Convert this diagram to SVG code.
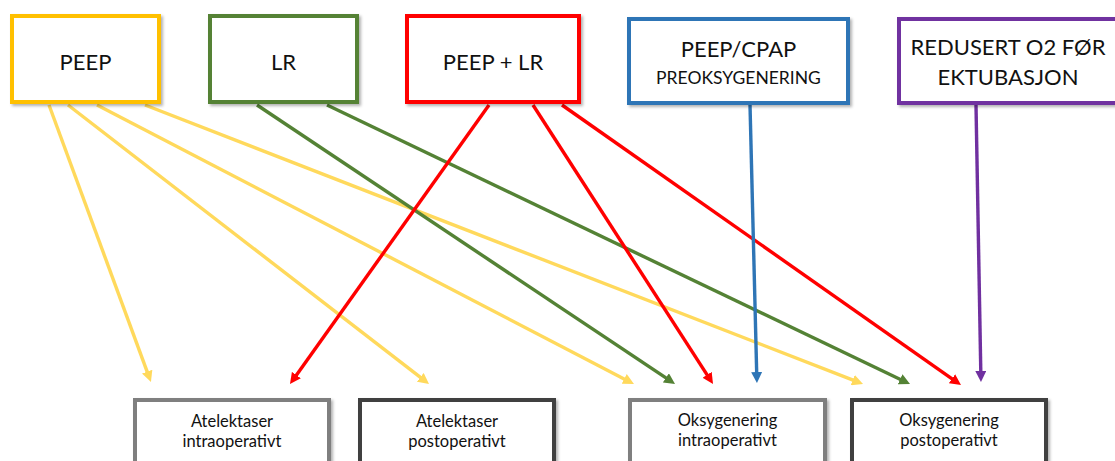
<svg xmlns="http://www.w3.org/2000/svg" width="1115" height="461" viewBox="0 0 1115 461">
<style>
.box{fill:#fff;stroke-width:4;filter:url(#sh)}
.bb{fill:#fff;stroke-width:4;filter:url(#sh)}
.t{font-family:Lato,"Liberation Sans",sans-serif;fill:#111;text-anchor:middle}
.big{font-size:22px}
.mid{font-size:17.5px}
.sm{font-size:16.5px}
.c{fill:none;stroke-width:3.4}
</style>
<defs>
<filter id="sh" x="-10%" y="-10%" width="125%" height="130%">
<feDropShadow dx="2" dy="2" stdDeviation="1.5" flood-color="#000" flood-opacity="0.3"/>
</filter>
<marker id="ay" markerUnits="userSpaceOnUse" markerWidth="12" markerHeight="11" refX="1" refY="5.5" orient="auto"><path d="M0,0 L11,5.5 L0,11 z" fill="#FFD95C"/></marker>
<marker id="ag" markerUnits="userSpaceOnUse" markerWidth="12" markerHeight="11" refX="1" refY="5.5" orient="auto"><path d="M0,0 L11,5.5 L0,11 z" fill="#548235"/></marker>
<marker id="ar" markerUnits="userSpaceOnUse" markerWidth="12" markerHeight="11" refX="1" refY="5.5" orient="auto"><path d="M0,0 L11,5.5 L0,11 z" fill="#FF0000"/></marker>
<marker id="ab" markerUnits="userSpaceOnUse" markerWidth="12" markerHeight="11" refX="1" refY="5.5" orient="auto"><path d="M0,0 L11,5.5 L0,11 z" fill="#2E75B6"/></marker>
<marker id="ap" markerUnits="userSpaceOnUse" markerWidth="12" markerHeight="11" refX="1" refY="5.5" orient="auto"><path d="M0,0 L11,5.5 L0,11 z" fill="#7030A0"/></marker>
</defs>
<rect width="1115" height="461" fill="#fff"/>
<g id="connectors">
<line class="c" stroke="#FFD95C" marker-end="url(#ay)" x1="49" y1="105" x2="147.5" y2="372.6"/>
<line class="c" stroke="#FFD95C" marker-end="url(#ay)" x1="68" y1="105" x2="421.1" y2="377.9"/>
<line class="c" stroke="#FFD95C" marker-end="url(#ay)" x1="97" y1="105" x2="625.1" y2="379.4"/>
<line class="c" stroke="#FFD95C" marker-end="url(#ay)" x1="145" y1="105" x2="853.7" y2="380.4"/>
<line class="c" stroke="#548235" marker-end="url(#ag)" x1="257" y1="105" x2="666.7" y2="378.4"/>
<line class="c" stroke="#548235" marker-end="url(#ag)" x1="327" y1="105" x2="901" y2="379.7"/>
<line class="c" stroke="#FF0000" marker-end="url(#ar)" x1="489" y1="105" x2="295.8" y2="375.9"/>
<line class="c" stroke="#FF0000" marker-end="url(#ar)" x1="533" y1="105" x2="707.6" y2="375.6"/>
<line class="c" stroke="#FF0000" marker-end="url(#ar)" x1="562" y1="105" x2="952.8" y2="379.3"/>
<line class="c" stroke="#2E75B6" marker-end="url(#ab)" x1="750" y1="105" x2="756.7" y2="373"/>
<line class="c" stroke="#7030A0" marker-end="url(#ap)" x1="976" y1="105" x2="980.8" y2="372"/>
</g>
<g id="peep">
<rect class="box" stroke="#FFC000" x="12" y="16" width="147" height="86"/>
<text class="t big" x="85.5" y="70">PEEP</text>
</g>
<g id="lr">
<rect class="box" stroke="#548235" x="210" y="16" width="147" height="86"/>
<text class="t big" x="283.5" y="70">LR</text>
</g>
<g id="peeplr">
<rect class="box" stroke="#FF0000" x="407" y="16" width="172" height="86"/>
<text class="t big" x="493" y="70">PEEP + LR</text>
</g>
<g id="cpap">
<rect class="box" stroke="#2E75B6" x="629" y="19" width="219" height="84"/>
<text class="t big" x="738.5" y="57">PEEP/CPAP</text>
<text class="t mid" x="738.5" y="84">PREOKSYGENERING</text>
</g>
<g id="redusert">
<rect class="box" stroke="#7030A0" x="899" y="19" width="230" height="84"/>
<text class="t big" x="1008" y="55">REDUSERT O2 FØR</text>
<text class="t big" x="1008" y="85">EKTUBASJON</text>
</g>
<g id="atel-intra">
<rect class="bb" stroke="#7F7F7F" x="135" y="400" width="194" height="80"/>
<text class="t sm" x="232" y="427">Atelektaser</text>
<text class="t sm" x="232" y="447">intraoperativt</text>
</g>
<g id="atel-post">
<rect class="bb" stroke="#404040" x="360" y="400" width="194" height="80"/>
<text class="t sm" x="457" y="427">Atelektaser</text>
<text class="t sm" x="457" y="447">postoperativt</text>
</g>
<g id="oksy-intra">
<rect class="bb" stroke="#7F7F7F" x="630" y="400" width="195" height="80"/>
<text class="t sm" x="727.5" y="426">Oksygenering</text>
<text class="t sm" x="727.5" y="446">intraoperativt</text>
</g>
<g id="oksy-post">
<rect class="bb" stroke="#404040" x="852" y="400" width="194" height="80"/>
<text class="t sm" x="949" y="426">Oksygenering</text>
<text class="t sm" x="949" y="446">postoperativt</text>
</g>
</svg>
